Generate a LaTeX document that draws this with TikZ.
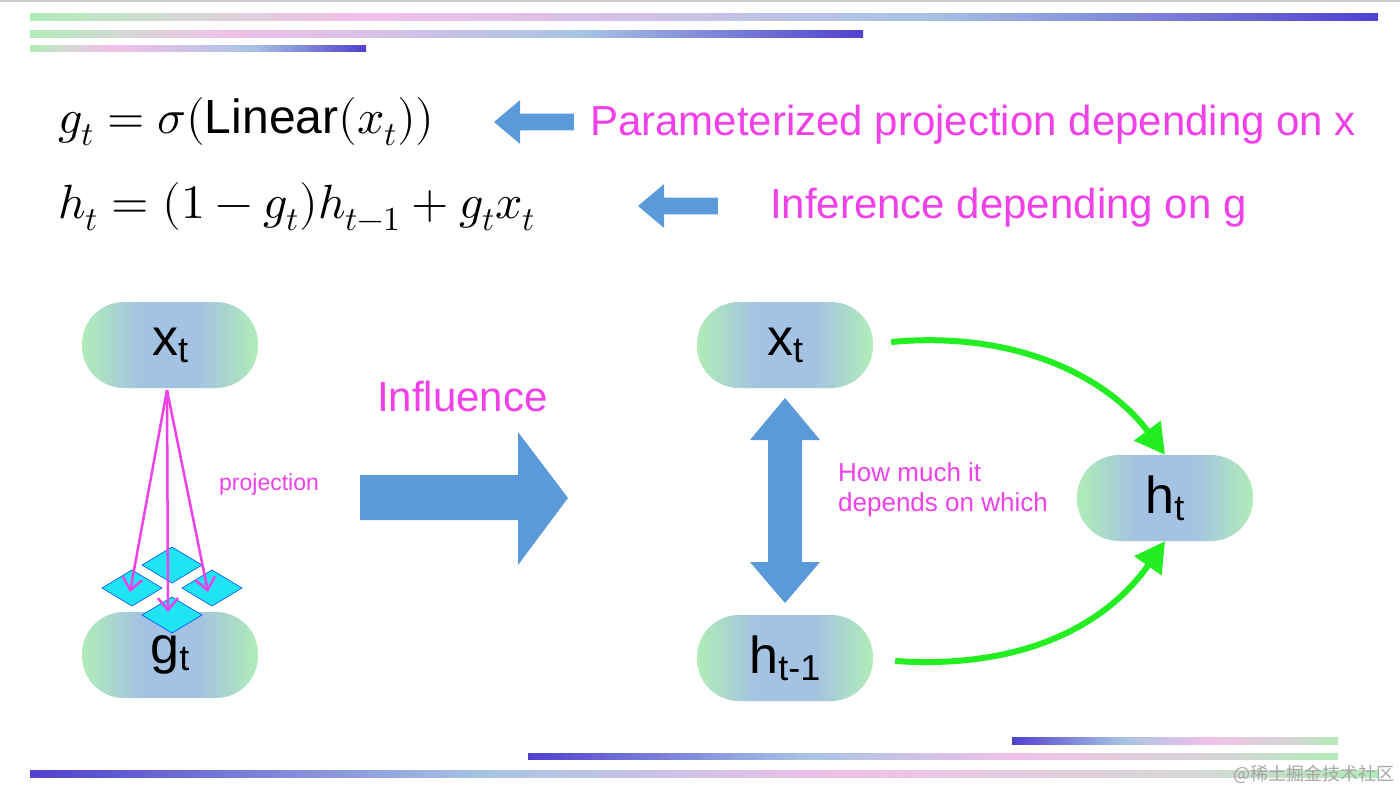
\documentclass[tikz,border=0pt]{standalone}
\usepackage{amsmath}
\usepackage{fontspec}
\usepackage{unicode-math}
\setmainfont{Liberation Sans}
\setmathfont{Latin Modern Math}
\newfontfamily\cjk{Noto Sans CJK SC}
\usetikzlibrary{shapes.arrows,arrows.meta}
\definecolor{pk}{HTML}{F040E8}
\definecolor{gA}{HTML}{B0ECB8}
\definecolor{gB}{HTML}{D6D6D6}
\definecolor{gC}{HTML}{F0C0E8}
\definecolor{gD}{HTML}{A8C4E4}
\definecolor{gE}{HTML}{5040D0}
\definecolor{pillc}{HTML}{A4C2E2}
\definecolor{arr}{HTML}{5A9AD8}
\definecolor{grn}{HTML}{22EE22}
\definecolor{cy}{HTML}{20E4F4}
\pgfdeclarehorizontalshading{barR}{100bp}{color(0bp)=(gA);color(25bp)=(gA);color(31bp)=(gB);color(37bp)=(gC);color(45bp)=(gC!70!gD);color(58bp)=(gD);color(75bp)=(gE);color(100bp)=(gE)}
\pgfdeclarehorizontalshading{barL}{100bp}{color(0bp)=(gE);color(25bp)=(gE);color(42bp)=(gD);color(55bp)=(gC);color(68bp)=(gB);color(75bp)=(gA);color(100bp)=(gA)}
\pgfdeclarehorizontalshading{pill}{100bp}{color(0bp)=(gA);color(25bp)=(gA);color(42bp)=(pillc);color(58bp)=(pillc);color(75bp)=(gA);color(100bp)=(gA)}
\tikzset{
  pillS/.style={rounded corners=42pt,shading=pill,minimum width=176pt,minimum height=86pt,inner sep=0pt,font=\fontsize{52}{52}\selectfont},
  pinkT/.style={text=pk,anchor=west,inner sep=0pt},
  big/.style={font=\fontsize{42}{42}\selectfont},
  eq/.style={anchor=west,inner sep=0pt,font=\fontsize{48}{48}\selectfont},
  smallarr/.style={single arrow,fill=arr,draw=none,shape border rotate=180,minimum height=80pt,minimum width=44pt,single arrow head extend=10pt,single arrow tip angle=80,inner sep=6pt},
  proj/.style={draw=pk,line width=2.5pt,-{Straight Barb[length=12pt,width=20pt]}},
  gr/.style={draw=grn,line width=6pt,-{Triangle[length=30pt,width=32pt]}},
  dia/.style={fill=cy,draw=blue!70!cyan,line width=0.6pt}
}
\newcommand{\sbt}[1]{\raisebox{-7pt}{\fontsize{36}{36}\selectfont #1}}
\begin{document}
\begin{tikzpicture}[x=1pt,y=-1pt]
\useasboundingbox (0,0) rectangle (1400,790);
\fill[white] (0,0) rectangle (1400,790);
\fill[gray!40] (0,0) rectangle (1400,2);
% bars
\shade[shading=barR] (30,13) rectangle (1378,20);
\shade[shading=barR] (30,30) rectangle (863,37);
\shade[shading=barR] (30,45) rectangle (366,51);
\shade[shading=barL] (1012,737) rectangle (1338,744);
\shade[shading=barL] (528,753) rectangle (1338,759);
\shade[shading=barL] (30,770) rectangle (1378,777);
% equations
\node[eq] (e1) at (58,122) {$g_t=\sigma(\text{Linear}(x_t))$};
\node[eq] (e2) at (58,207) {$h_t=(1-g_t)h_{t-1}+g_tx_t$};
\node[smallarr] (a1) at (539,122) {};
\node[smallarr] (a2) at (683,206) {};
\node[pinkT,big] (t1) at (590,125) {Parameterized projection depending on x};
\node[pinkT,big] (t2) at (770,208) {Inference depending on g};
% left pills
\node[pillS] (xl) at (170,345) {x\sbt{t}};
\node[pillS] (gl) at (170,655) {g\sbt{t}};
% diamonds
\foreach \n/\cx/\cy in {d1/172/565,d2/132/588,d3/212/588,d4/172/615}
  \draw[dia] (\cx-30,\cy) coordinate (\n) -- (\cx,\cy-18) -- (\cx+30,\cy) -- (\cx,\cy+18) -- cycle;
\coordinate (ps) at (167,390);
\coordinate (pa) at (130,592);
\coordinate (pb) at (168,612);
\coordinate (pc) at (208,592);
\draw[proj] (ps) -- (pa);
\draw[proj] (ps) -- (pb);
\draw[proj] (ps) -- (pc);
\node[pinkT,font=\fontsize{23}{23}\selectfont] (pj) at (219,485) {projection};
% influence
\node[pinkT,big] (inf) at (377,396) {Influence};
\fill[arr] (360,475) -- (518,475) -- (518,432) -- (568,498) -- (518,565) -- (518,520) -- (360,520) -- cycle;
% right pills
\node[pillS] (xr) at (785,345) {x\sbt{t}};
\node[pillS] (hp) at (785,658) {h\sbt{t-1}};
\node[pillS] (ht) at (1165,498) {h\sbt{t}};
% double arrow
\fill[arr] (785,398) -- (820,440) -- (802,440) -- (802,562) -- (820,562) -- (785,603) -- (750,562) -- (768,562) -- (768,440) -- (750,440) -- cycle;
\node[pinkT,font=\fontsize{26}{26}\selectfont,align=left,anchor=north west] (how) at (838,462) {How much it\\[4pt]depends on which};
% green arrows
\draw[gr] (xr.east) ++(18,-3) .. controls (1020,330) and (1110,380) .. (ht.north);
\draw[gr] (hp.east) ++(22,3) .. controls (1030,670) and (1110,620) .. (ht.south);
\node[anchor=east,text=gray!70,font=\cjk\fontsize{18}{18}\selectfont,inner sep=0pt] (wm) at (1395,774) {@稀土掘金技术社区};
\end{tikzpicture}
\end{document}
